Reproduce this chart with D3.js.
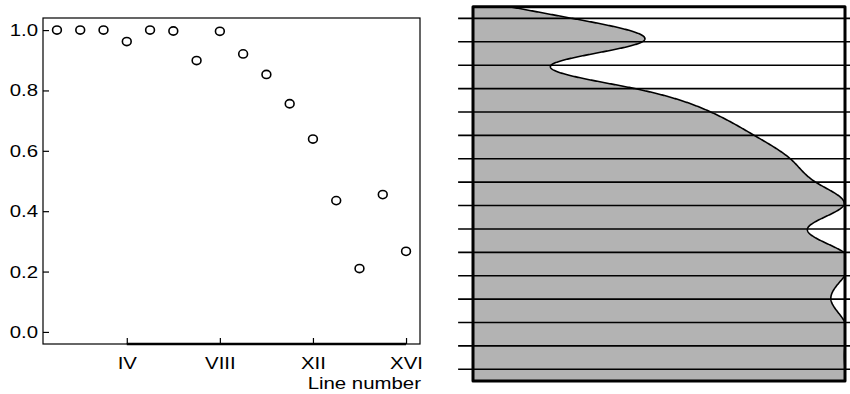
<!DOCTYPE html>
<html>
<head>
<meta charset="utf-8">
<script src="https://cdn.jsdelivr.net/npm/d3@7"></script>
<style>
  html, body { margin: 0; padding: 0; background: #fff; }
  svg { display: block; }
  text { font-family: "Liberation Sans", Arial, Helvetica, sans-serif; fill: #000; }
</style>
</head>
<body>
<svg id="chart" width="850" height="394"></svg>
<script>
// ---- data ----
const lineNumbers = [1, 2, 3, 4, 5, 6, 7, 8, 9, 10, 11, 12, 13, 14, 15, 16];
const values = [1.0, 1.0, 1.0, 0.962, 1.0, 0.997, 0.899, 0.996, 0.921, 0.853, 0.756, 0.639, 0.435, 0.210, 0.455, 0.267];
const xTickValues = [4, 8, 12, 16];
const xTickLabels = ["IV", "VIII", "XII", "XVI"];
const yTickValues = [0.0, 0.2, 0.4, 0.6, 0.8, 1.0];
const xAxisTitle = "Line number";

const svg = d3.select("#chart");
const SX = 1.2; // horizontal text stretch of the original

// ---- left panel ----
const L = { left: 43, right: 420, top: 18, bottom: 344 };
const x = d3.scaleLinear().domain([0.4, 16.6]).range([L.left, L.right]);
const y = d3.scaleLinear().domain([-0.04, 1.04]).range([L.bottom, L.top]);

const left = svg.append("g");

left.append("rect")
  .attr("x", L.left).attr("y", L.top)
  .attr("width", L.right - L.left).attr("height", L.bottom - L.top)
  .attr("fill", "none").attr("stroke", "#000").attr("stroke-width", 1.2);

// x axis
const xAxis = d3.axisBottom(x)
  .tickValues(xTickValues)
  .tickFormat((d, i) => xTickLabels[i])
  .tickSizeInner(-6).tickSizeOuter(0).tickPadding(12.5);
const gx = left.append("g").attr("transform", `translate(0,${L.bottom})`).call(xAxis);
gx.select(".domain").remove();
gx.selectAll(".tick line").attr("stroke", "#000").attr("stroke-width", 1.2);
gx.selectAll(".tick text")
  .attr("font-size", 17).attr("font-family", "Liberation Sans, Arial, sans-serif")
  .attr("transform", `scale(${SX},1)`);
left.append("line")
  .attr("x1", x(xTickValues[0])).attr("x2", x(xTickValues[xTickValues.length - 1]))
  .attr("y1", L.bottom).attr("y2", L.bottom)
  .attr("stroke", "#000").attr("stroke-width", 2.4);

// y axis
const yAxis = d3.axisLeft(y)
  .tickValues(yTickValues)
  .tickFormat(d3.format(".1f"))
  .tickSizeInner(-6).tickSizeOuter(0).tickPadding(5);
const gy = left.append("g").attr("transform", `translate(${L.left},0)`).call(yAxis);
gy.select(".domain").remove();
gy.selectAll(".tick line").attr("stroke", "#000").attr("stroke-width", 1.2);
gy.selectAll(".tick text")
  .attr("font-size", 17).attr("font-family", "Liberation Sans, Arial, sans-serif")
  .attr("x", -5 / SX)
  .attr("transform", `scale(${SX},1)`);

left.append("text")
  .attr("text-anchor", "end")
  .attr("font-size", 17)
  .attr("transform", `translate(${L.right + 1},389) scale(${SX},1)`)
  .text(xAxisTitle);

// points
left.append("g").selectAll("ellipse")
  .data(lineNumbers)
  .join("ellipse")
  .attr("cx", (d, i) => x(d))
  .attr("cy", (d, i) => y(values[i]))
  .attr("rx", 4.4).attr("ry", 4.1)
  .attr("fill", "none").attr("stroke", "#000").attr("stroke-width", 1.6);

// ---- right panel ----
const R = { left: 473, right: 845, top: 6.7, bottom: 381 };
const xR = d3.scaleLinear().domain([0, 1]).range([R.left, R.right]);
const yR = d3.scaleLinear().domain([0.5, 16.5]).range([R.bottom, R.top]);

// natural cubic spline through (lineNumbers, values) with linear extrapolation
function naturalSpline(xs, ys) {
  const n = xs.length;
  const h = d3.range(n - 1).map(i => xs[i + 1] - xs[i]);
  const M = new Array(n).fill(0);
  const a = [], b = [], c = [], r = [];
  for (let i = 1; i < n - 1; i++) {
    a.push(h[i - 1]); b.push(2 * (h[i - 1] + h[i])); c.push(h[i]);
    r.push(6 * ((ys[i + 1] - ys[i]) / h[i] - (ys[i] - ys[i - 1]) / h[i - 1]));
  }
  const m = b.length;
  for (let i = 1; i < m; i++) {
    const w = a[i] / b[i - 1];
    b[i] -= w * c[i - 1]; r[i] -= w * r[i - 1];
  }
  const sol = new Array(m);
  sol[m - 1] = r[m - 1] / b[m - 1];
  for (let i = m - 2; i >= 0; i--) sol[i] = (r[i] - c[i] * sol[i + 1]) / b[i];
  for (let i = 1; i < n - 1; i++) M[i] = sol[i - 1];
  const s0 = (ys[1] - ys[0]) / h[0] - h[0] * (2 * M[0] + M[1]) / 6;
  const sn = (ys[n - 1] - ys[n - 2]) / h[n - 2] + h[n - 2] * (M[n - 2] + 2 * M[n - 1]) / 6;
  return function (t) {
    if (t <= xs[0]) return ys[0] + s0 * (t - xs[0]);
    if (t >= xs[n - 1]) return ys[n - 1] + sn * (t - xs[n - 1]);
    let i = Math.min(n - 2, Math.floor(t - xs[0]));
    while (t < xs[i]) i--;
    while (t > xs[i + 1]) i++;
    const hi = h[i], A = (xs[i + 1] - t) / hi, B = (t - xs[i]) / hi;
    return A * ys[i] + B * ys[i + 1] + ((A * A * A - A) * M[i] + (B * B * B - B) * M[i + 1]) * hi * hi / 6;
  };
}
const spl = naturalSpline(lineNumbers, values);
const [t0, t1] = yR.domain();
const curvePts = d3.range(t0, t1 + 1e-9, 0.01).map(t => ({ t, v: spl(t) }));

const right = svg.append("g");
right.append("clipPath").attr("id", "clipR")
  .append("rect")
  .attr("x", R.left).attr("y", R.top)
  .attr("width", R.right - R.left).attr("height", R.bottom - R.top);

const clipped = right.append("g").attr("clip-path", "url(#clipR)");
clipped.append("path")
  .datum(curvePts)
  .attr("d", d3.area().curve(d3.curveLinear)
    .y(d => yR(d.t)).x0(xR(0)).x1(d => xR(d.v)))
  .attr("fill", "#b3b3b3").attr("stroke", "none");
clipped.append("path")
  .datum(curvePts)
  .attr("d", d3.line().curve(d3.curveLinear).y(d => yR(d.t)).x(d => xR(d.v)))
  .attr("fill", "none").attr("stroke", "#000").attr("stroke-width", 1.6);

right.append("g").selectAll("line")
  .data(lineNumbers)
  .join("line")
  .attr("x1", xR(-0.04)).attr("x2", xR(1.04))
  .attr("y1", d => yR(d)).attr("y2", d => yR(d))
  .attr("stroke", "#000").attr("stroke-width", 1.6);

right.append("rect")
  .attr("x", R.left).attr("y", R.top)
  .attr("width", R.right - R.left).attr("height", R.bottom - R.top)
  .attr("fill", "none").attr("stroke", "#000").attr("stroke-width", 3)
  .attr("stroke-linejoin", "round");
</script>
</body>
</html>
